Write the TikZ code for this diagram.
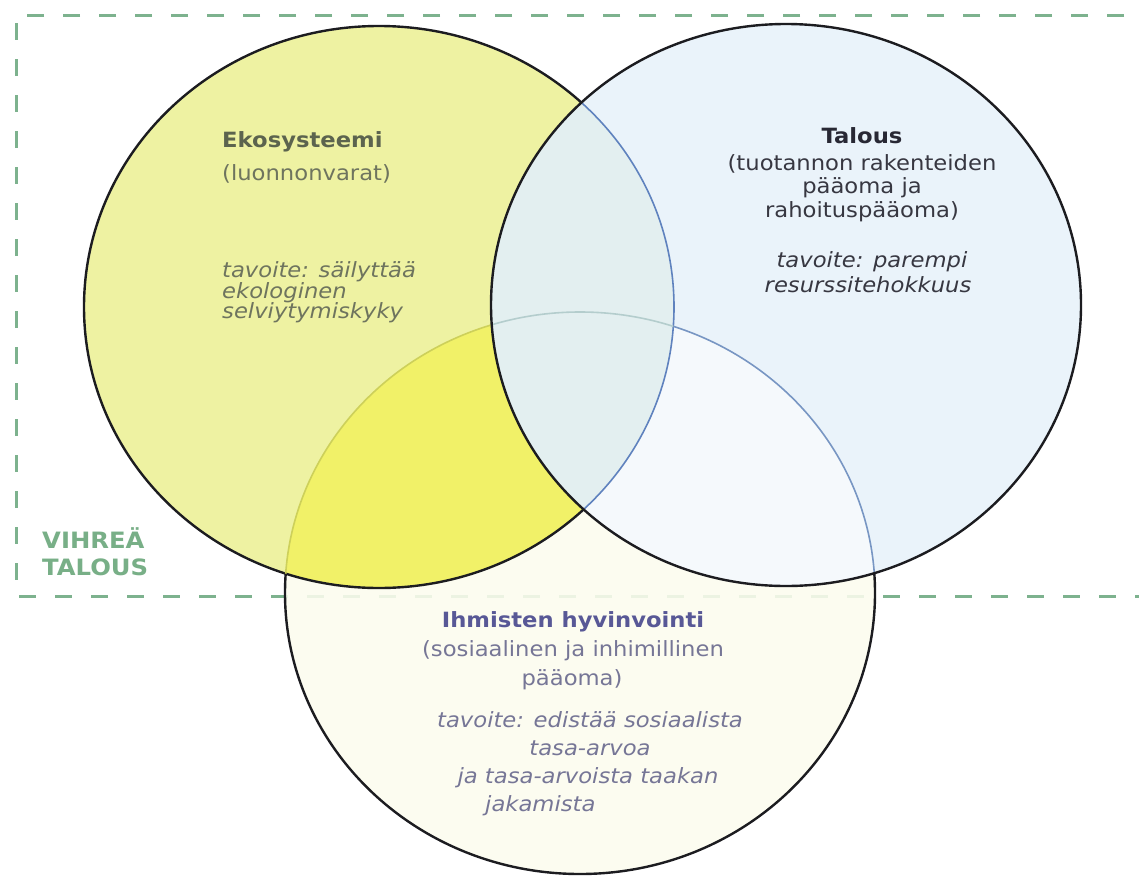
\documentclass[tikz,border=0pt]{standalone}
\usepackage{fontspec}
\setmainfont{DejaVu Sans}[FakeStretch=1.08]
\definecolor{frameG}{RGB}{125,178,142}
\definecolor{ylw}{RGB}{238,242,162}
\definecolor{ylwB}{RGB}{241,241,104}
\definecolor{blu}{RGB}{234,243,250}
\definecolor{lensC}{RGB}{227,239,240}
\definecolor{paleB}{RGB}{252,252,238}
\definecolor{lnBlue}{RGB}{95,130,190}
\definecolor{lnOlive}{RGB}{205,208,90}
\definecolor{lnPale}{RGB}{180,205,205}
\definecolor{lnBlueB}{RGB}{120,150,195}
\definecolor{outl}{RGB}{28,28,32}
\definecolor{ekoB}{RGB}{92,100,78}
\definecolor{ekoT}{RGB}{110,116,94}
\definecolor{talB}{RGB}{40,40,52}
\definecolor{talT}{RGB}{55,55,65}
\definecolor{ihmB}{RGB}{88,88,150}
\definecolor{ihmT}{RGB}{118,118,150}
\definecolor{vihr}{RGB}{120,175,135}
\newcommand{\pL}{(379,307) ellipse [x radius=295, y radius=281]}
\newcommand{\pR}{(786,305) ellipse [x radius=295, y radius=281]}
\newcommand{\pB}{(580,593) ellipse [x radius=295, y radius=281]}
\newcommand{\pAll}{(-200,-200) rectangle (1400,1100)}
\tikzset{
  txt/.style={inner sep=0pt, font=\fontsize{21}{24}\selectfont},
  hd/.style={inner sep=0pt, font=\fontsize{21}{24}\selectfont\bfseries},
  itx/.style={inner sep=0pt, font=\fontsize{21}{24}\selectfont\itshape},
  framedash/.style={draw=frameG, line width=3pt, dash pattern=on 17pt off 19pt},
  outer/.style={draw=outl, line width=2.4pt},
  inner/.style={line width=1.6pt}
}
\begin{document}
\begin{tikzpicture}[x=1pt,y=-1pt]
\useasboundingbox (0,0) rectangle (1139,878);
\fill[white] (0,0) rectangle (1139,878);
% green economy frame
\draw[framedash] (1160,15) -- (16,15) -- (16,596) -- (1160,596);
% fills
\fill[paleB, opacity=0.88] \pB;
\fill[ylw] \pL;
\begin{scope}
  \clip \pL;
  \fill[ylwB] \pB;
\end{scope}
\fill[blu] \pR;
\begin{scope}
  \clip \pR;
  \fill[white, opacity=0.55] \pB;
\end{scope}
\begin{scope}
  \clip \pL;
  \fill[lensC] \pR;
\end{scope}
% outlines of left circle
\begin{scope}[even odd rule]
  \clip \pAll \pR;
  \draw[outer] \pL;
\end{scope}
\begin{scope}
  \clip \pR;
  \draw[inner, draw=lnBlue] \pL;
\end{scope}
% outlines of bottom circle
\begin{scope}[even odd rule]
  \clip \pAll \pL;
  \clip \pAll \pR;
  \draw[outer] \pB;
\end{scope}
\begin{scope}
  \clip \pL;
  \begin{scope}[even odd rule]
    \clip \pAll \pR;
    \draw[inner, draw=lnOlive] \pB;
  \end{scope}
\end{scope}
\begin{scope}
  \clip \pL;
  \clip \pR;
  \draw[inner, draw=lnPale] \pB;
\end{scope}
\begin{scope}
  \clip \pR;
  \begin{scope}[even odd rule]
    \clip \pAll \pL;
    \draw[inner, draw=lnBlueB] \pB;
  \end{scope}
\end{scope}
% right circle outline
\draw[outer] \pR;
% texts: Ekosysteemi
\node[hd, text=ekoB, anchor=base west] (eko1) at (222,147) {Ekosysteemi};
\node[txt, text=ekoT, anchor=base west] (eko2) at (222,180) {(luonnonvarat)};
\node[itx, text=ekoT, anchor=base west] (eko3) at (222,277) {tavoite: säilyttää};
\node[itx, text=ekoT, anchor=base west] (eko4) at (222,298) {ekologinen};
\node[itx, text=ekoT, anchor=base west] (eko5) at (222,318) {selviytymiskyky};
% Talous
\node[hd, text=talB, anchor=base] (tal1) at (862,143) {Talous};
\node[txt, text=talT, anchor=base] (tal2) at (862,170) {(tuotannon rakenteiden};
\node[txt, text=talT, anchor=base] (tal3) at (862,193) {pääoma ja};
\node[txt, text=talT, anchor=base] (tal4) at (862,217) {rahoituspääoma)};
\node[itx, text=talT, anchor=base] (tal5) at (872,267) {tavoite: parempi};
\node[itx, text=talT, anchor=base] (tal6) at (868,292) {resurssitehokkuus};
% Ihmisten hyvinvointi
\node[hd, text=ihmB, anchor=base] (ihm1) at (573,627) {Ihmisten hyvinvointi};
\node[txt, text=ihmT, anchor=base] (ihm2) at (573,656) {(sosiaalinen ja inhimillinen};
\node[txt, text=ihmT, anchor=base] (ihm3) at (572,685) {pääoma)};
\node[itx, text=ihmT, anchor=base] (ihm4) at (590,727) {tavoite: edistää sosiaalista};
\node[itx, text=ihmT, anchor=base] (ihm5) at (590,755) {tasa-arvoa};
\node[itx, text=ihmT, anchor=base] (ihm6) at (588,783) {ja tasa-arvoista taakan};
\node[itx, text=ihmT, anchor=base west] (ihm7) at (485,811) {jakamista};
% Vihreä talous
\node[hd, text=vihr, anchor=base west, font=\fontsize{22.5}{24}\selectfont\bfseries] (vt1) at (42,548) {VIHREÄ};
\node[hd, text=vihr, anchor=base west, font=\fontsize{22.5}{24}\selectfont\bfseries] (vt2) at (42,575) {TALOUS};
\end{tikzpicture}
\end{document}
